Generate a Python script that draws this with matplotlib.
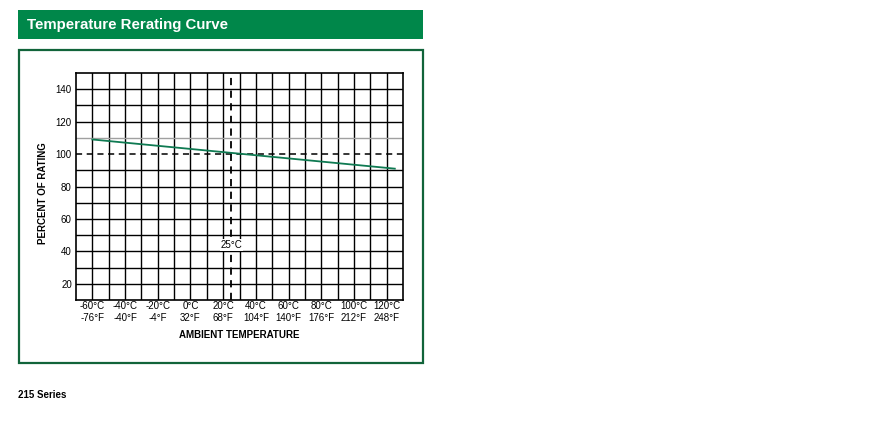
import numpy as np
import matplotlib
matplotlib.use("Agg")
from matplotlib import pyplot as plt
from matplotlib.patches import Rectangle

plt.rcParams['font.family'] = ['Liberation Sans', 'DejaVu Sans']

# data
temp_c = [-60, 125]
rating = [109, 91]
tick_c = [-60, -40, -20, 0, 20, 40, 60, 80, 100, 120]
tick_lbl = ["-60°C\n-76°F", "-40°C\n-40°F", "-20°C\n-4°F", "0°C\n32°F", "20°C\n68°F",
            "40°C\n104°F", "60°C\n140°F", "80°C\n176°F", "100°C\n212°F", "120°C\n248°F"]
y_ticks = [20, 40, 60, 80, 100, 120, 140]
ref_temp = 25
ref_rating = 100

W, H = 880, 442
fig = plt.figure(figsize=(W / 100, H / 100), dpi=100)

green = "#00874a"

# header bar
fig.patches.append(Rectangle((18 / W, 1 - 39 / H), 405 / W, 29 / H, transform=fig.transFigure,
                             facecolor=green, edgecolor="none"))
fig.text(27 / W, 1 - 25 / H, "Temperature Rerating Curve", color="white", fontsize=10.8,
         fontweight="bold", va="center", ha="left")

# frame
fig.patches.append(Rectangle((18.5 / W, 1 - 363 / H), 404 / W, 313 / H, transform=fig.transFigure,
                             facecolor="none", edgecolor="#11643a", linewidth=1.6))

fig.text(18 / W, 1 - 395 / H, "215 Series", color="black", fontsize=7, fontweight="bold",
         va="center", ha="left")

# axes
l, r, t, b = 76, 403, 73, 300
ax = fig.add_axes([l / W, 1 - b / H, (r - l) / W, (b - t) / H])
ax.set_xlim(-70, 130)
ax.set_ylim(10, 150)

for xv in np.arange(-60, 130, 10):
    ax.axvline(xv, color="black", lw=1.0, zorder=1)
for yv in np.arange(20, 150, 10):
    c = "#a0a0a0" if yv == 110 else "black"
    if yv == ref_rating:
        continue
    ax.axhline(yv, color=c, lw=1.0, zorder=1)

ax.axhline(ref_rating, color="black", lw=1.1, ls=(0, (4, 3)), zorder=2)
ax.axvline(ref_temp, color="black", lw=1.3, ls=(0, (4, 3)), zorder=2)

ax.plot(temp_c, rating, color="#0f7a52", lw=1.3, zorder=3)

ax.text(ref_temp, 44, "25°C", fontsize=7, ha="center", va="center",
        bbox=dict(facecolor="white", edgecolor="none", pad=0.5), zorder=4)

ax.set_xticks(tick_c)
ax.set_xticklabels(tick_lbl, fontsize=7, linespacing=1.15)
ax.set_yticks(y_ticks)
ax.set_yticklabels([str(v) for v in y_ticks], fontsize=7)
ax.tick_params(length=0, pad=3)
ax.tick_params(axis="x", pad=1)
for s in ax.spines.values():
    s.set_color("black")
    s.set_linewidth(1.2)

ax.set_xlabel("AMBIENT TEMPERATURE", fontsize=7, fontweight="bold", labelpad=5)
ax.set_ylabel("PERCENT OF RATING", fontsize=7, fontweight="bold")
ax.yaxis.set_label_coords(-0.085, 0.47)

fig.savefig("out.png", dpi=100)
